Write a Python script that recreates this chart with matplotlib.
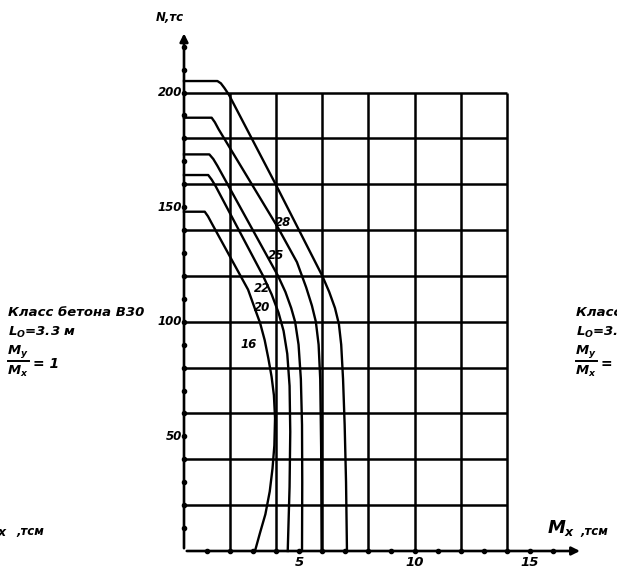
import matplotlib
matplotlib.use("Agg")
import matplotlib.pyplot as plt

plt.rcParams['mathtext.fontset'] = 'custom'
plt.rcParams['mathtext.it'] = 'DejaVu Sans:italic:bold'
plt.rcParams['mathtext.rm'] = 'DejaVu Sans:bold'

# ---- data ----
curve_labels = ["28", "25", "22", "20", "16"]

m_28 = [0, 1.45, 1.6, 1.75, 1.95, 4.0, 6.0, 6.3, 6.55, 6.72, 6.82, 6.9, 6.97, 7.03, 7.07]
n_28 = [205, 205, 204, 202, 199, 159.5, 120, 113, 106, 99, 90, 75, 55, 30, 0]

m_25 = [0, 1.2, 1.34, 1.5, 4.08, 4.9, 5.3, 5.55, 5.72, 5.84, 5.91, 5.95, 5.97]
n_25 = [189, 189, 187, 184, 141, 126, 115, 107, 100, 90, 75, 45, 0]

m_22 = [0, 1.1, 1.27, 1.45, 4.08, 4.4, 4.65, 4.82, 4.97, 5.07, 5.12, 5.13, 5.12]
n_22 = [173, 173, 171, 168, 120, 113, 106, 100, 90, 75, 55, 30, 0]

m_20 = [0, 1.05, 1.2, 1.38, 3.43, 3.8, 4.1, 4.32, 4.48, 4.58, 4.61, 4.58, 4.5]
n_20 = [164, 164, 162, 159, 120, 112, 104, 96, 86, 72, 52, 28, 0]

m_16 = [0, 0.9, 1.04, 1.2, 2.78, 3.1, 3.3, 3.5, 3.66, 3.8, 3.9, 3.95, 3.92, 3.84, 3.72, 3.53, 3.3, 3.08]
n_16 = [148, 148, 146, 143, 114, 105, 99.5, 92, 84, 76, 68, 58, 46, 36, 26, 16, 8, 0]

label_m = [4.3, 4.0, 3.38, 3.38, 2.82]
label_n = [143.5, 128.7, 114.7, 106, 90]

x_ticks = [5, 10, 15]
y_ticks = [50, 100, 150, 200]
grid_x = [2, 4, 6, 8, 10, 12, 14]
grid_y = [20, 40, 60, 80, 100, 120, 140, 160, 180, 200]
x_minor = list(range(1, 17))
y_minor = list(range(10, 230, 10))

# ---- figure ----
W, H = 617, 574
fig = plt.figure(figsize=(W / 100, H / 100), dpi=100)
ax = fig.add_axes([0, 0, 1, 1])
ox, oy = 184.0, 551.0
sx, sy = 23.05, 2.2925
ax.set_xlim(-ox / sx, (W - ox) / sx)
ax.set_ylim(-(H - oy) / sy, oy / sy)
ax.axis('off')


def px(x):
    return (x - ox) / sx


def py(y):
    return (oy - y) / sy


FONT = dict(family='DejaVu Sans', weight='bold', style='italic', color='black')

# grid
for gx in grid_x:
    ax.plot([gx, gx], [0, 200], color='black', lw=1.8, solid_capstyle='butt')
for gy in grid_y:
    ax.plot([0, 14], [gy, gy], color='black', lw=1.8, solid_capstyle='butt')

# axes with arrows
ax.annotate('', xy=(17.3, 0), xytext=(0, 0),
            arrowprops=dict(arrowstyle='-|>', color='black', lw=1.9, mutation_scale=12))
ax.annotate('', xy=(0, 227), xytext=(0, 0),
            arrowprops=dict(arrowstyle='-|>', color='black', lw=1.9, mutation_scale=12))
ax.plot(x_minor, [0] * len(x_minor), 'o', color='black', ms=3)
ax.plot([0] * len(y_minor), y_minor, 'o', color='black', ms=3)

# curves
for m, n in [(m_28, n_28), (m_25, n_25), (m_22, n_22), (m_20, n_20), (m_16, n_16)]:
    ax.plot(m, n, color='black', lw=1.7, solid_joinstyle='round')

# curve labels
for lab, lm, ln in zip(curve_labels, label_m, label_n):
    ax.text(lm, ln, lab, ha='center', va='center', fontsize=8.5, **FONT)

# tick labels
for t in x_ticks:
    ax.text(t, -2.0, str(t), ha='center', va='top', fontsize=9.5, **FONT)
for t in y_ticks:
    ax.text(-0.08, t, str(t), ha='right', va='center', fontsize=8.5, **FONT)

# axis titles
ax.text(-0.6, 230, 'N,тс', ha='center', va='bottom', fontsize=8.5, **FONT)
ax.text(px(547), py(533), r'$M_x$', ha='left', va='baseline', fontsize=13, **FONT)
ax.text(px(580), py(535), ',тсм', ha='left', va='baseline', fontsize=8.5, **FONT)
ax.text(px(-20), py(533), r'$M_x$', ha='left', va='baseline', fontsize=13, **FONT)
ax.text(px(16), py(535), ',тсм', ha='left', va='baseline', fontsize=8.5, **FONT)


def info_block(x0):
    ax.text(px(x0), py(313), 'Класс бетона В30', ha='left', va='center', fontsize=9.5, **FONT)
    ax.text(px(x0), py(332), r'$L_O$=3.3 м', ha='left', va='center', fontsize=9.5, **FONT)
    ax.text(px(x0 + 10), py(352), r'$M_y$', ha='center', va='center', fontsize=9.5, **FONT)
    ax.plot([px(x0), px(x0 + 21)], [py(361), py(361)], color='black', lw=1.4)
    ax.text(px(x0 + 10), py(371), r'$M_x$', ha='center', va='center', fontsize=9.5, **FONT)
    ax.text(px(x0 + 25), py(364), '= 1', ha='left', va='center', fontsize=10, **FONT)


info_block(8)
info_block(576)

fig.savefig('out.png', dpi=100)
